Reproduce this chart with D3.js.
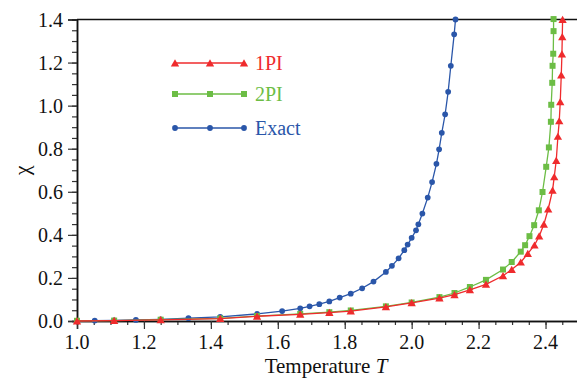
<!DOCTYPE html>
<html>
<head>
<meta charset="utf-8">
<script src="https://cdn.jsdelivr.net/npm/d3@7"></script>
<style>
  body { margin: 0; background: #fff; }
  svg { display: block; font-family: "Liberation Serif", "Times New Roman", serif; }
  svg text { font-family: "Liberation Serif", "Times New Roman", serif; }
</style>
</head>
<body>
<div id="chart"></div>
<script>
// temperatures and susceptibility
const exact_T = [1.0, 1.053, 1.111, 1.176, 1.25, 1.333, 1.428, 1.538, 1.613, 1.667, 1.695, 1.724, 1.754, 1.785, 1.818, 1.852, 1.886, 1.923, 1.941, 1.961, 1.978, 1.988, 2.0, 2.013, 2.02, 2.032, 2.048, 2.061, 2.074, 2.082, 2.09, 2.1, 2.109, 2.117, 2.127, 2.131];
const exact_chi = [0.001, 0.002, 0.003, 0.005, 0.008, 0.013, 0.019, 0.033, 0.046, 0.059, 0.068, 0.078, 0.091, 0.109, 0.127, 0.152, 0.183, 0.228, 0.256, 0.291, 0.329, 0.355, 0.386, 0.421, 0.449, 0.499, 0.573, 0.645, 0.73, 0.797, 0.874, 0.96, 1.064, 1.185, 1.331, 1.4];

const pi1_T = [1.0, 1.111, 1.25, 1.428, 1.538, 1.667, 1.754, 1.818, 1.923, 2.0, 2.083, 2.128, 2.174, 2.222, 2.273, 2.299, 2.326, 2.347, 2.367, 2.381, 2.395, 2.408, 2.421, 2.426, 2.432, 2.437, 2.441, 2.444, 2.447, 2.449, 2.45, 2.451];
const pi1_chi = [0.0, 0.002, 0.005, 0.011, 0.022, 0.031, 0.039, 0.046, 0.066, 0.084, 0.106, 0.122, 0.145, 0.17, 0.21, 0.239, 0.273, 0.313, 0.352, 0.394, 0.449, 0.52, 0.607, 0.669, 0.745, 0.857, 0.929, 1.018, 1.142, 1.239, 1.32, 1.4];

const pi2_T = [1.0, 1.111, 1.25, 1.428, 1.538, 1.667, 1.754, 1.818, 1.923, 2.0, 2.083, 2.128, 2.174, 2.222, 2.273, 2.299, 2.326, 2.339, 2.352, 2.366, 2.38, 2.391, 2.402, 2.41, 2.416, 2.417, 2.42, 2.421, 2.423, 2.424, 2.424];
const pi2_chi = [0.001, 0.002, 0.006, 0.012, 0.023, 0.033, 0.041, 0.049, 0.068, 0.086, 0.111, 0.13, 0.158, 0.191, 0.239, 0.274, 0.322, 0.352, 0.394, 0.445, 0.514, 0.599, 0.716, 0.806, 0.925, 1.004, 1.106, 1.185, 1.241, 1.346, 1.402];

const x_ticks = [1.0, 1.2, 1.4, 1.6, 1.8, 2.0, 2.2, 2.4];
const y_ticks = [0.0, 0.2, 0.4, 0.6, 0.8, 1.0, 1.2, 1.4];
const legend_names = ["1PI", "2PI", "Exact"];

const width = 577, height = 378;
const margin = { left: 77, right: -2, top: 19.5, bottom: 57 };
const serif = "Liberation Serif";

const svg = d3.select("#chart").append("svg")
  .attr("width", width)
  .attr("height", height);

const xScale = d3.scaleLinear().domain([1.0, 2.5]).range([margin.left, width - margin.right]);
const yScale = d3.scaleLinear().domain([0, 1.4]).range([height - margin.bottom, margin.top]);

const series = [
  { name: "Exact", T: exact_T, chi: exact_chi, color: "#2a56a9", shape: "circle" },
  { name: "2PI", T: pi2_T, chi: pi2_chi, color: "#6cbd45", shape: "square" },
  { name: "1PI", T: pi1_T, chi: pi1_chi, color: "#ef2b2d", shape: "triangle" },
];

const symbolFor = (shape) => {
  if (shape == "triangle") return d3.symbol().type(d3.symbolTriangle).size(30)();
  if (shape == "square") return d3.symbol().type(d3.symbolSquare).size(36)();
  return d3.symbol().type(d3.symbolCircle).size(26)();
};

// axes (ticks from d3, labels drawn as plain text below)
const minorX = d3.range(1.0, 2.5001, 0.05);
const minorY = d3.range(0, 1.4001, 0.05);

svg.append("g")
  .attr("class", "x-axis")
  .attr("transform", `translate(0,${yScale(0)})`)
  .call(d3.axisBottom(xScale).tickValues(minorX).tickSize(4).tickFormat(""));
svg.append("g")
  .attr("class", "x-axis")
  .attr("transform", `translate(0,${yScale(0)})`)
  .call(d3.axisBottom(xScale).tickValues(x_ticks).tickSize(8).tickFormat(""));

svg.append("g")
  .attr("class", "y-axis")
  .attr("transform", `translate(${xScale(1.0)},0)`)
  .call(d3.axisLeft(yScale).tickValues(minorY).tickSize(5).tickFormat(""));
svg.append("g")
  .attr("class", "y-axis")
  .attr("transform", `translate(${xScale(1.0)},0)`)
  .call(d3.axisLeft(yScale).tickValues(y_ticks).tickSize(9).tickFormat(""));

svg.selectAll(".domain").attr("stroke", "#111").attr("stroke-width", 1.5);
svg.selectAll(".tick line").attr("stroke", "#333").attr("stroke-width", 1.2);

svg.append("g").selectAll("text")
  .data(x_ticks)
  .enter()
  .append("text")
  .attr("x", (d) => xScale(d))
  .attr("y", yScale(0) + 28)
  .attr("text-anchor", "middle")
  .attr("font-family", serif)
  .attr("font-size", 20)
  .attr("fill", "#111")
  .text((d) => d3.format(".1f")(d));

svg.append("g").selectAll("text")
  .data(y_ticks)
  .enter()
  .append("text")
  .attr("x", xScale(1.0) - 14)
  .attr("y", (d) => yScale(d) + 7)
  .attr("text-anchor", "end")
  .attr("font-family", serif)
  .attr("font-size", 20)
  .attr("fill", "#111")
  .text((d) => d3.format(".1f")(d));

// top frame line
svg.append("line")
  .attr("x1", xScale(1.0)).attr("x2", width)
  .attr("y1", yScale(1.4)).attr("y2", yScale(1.4))
  .attr("stroke", "#111").attr("stroke-width", 1.6);

// axis titles
const xt = svg.append("text")
  .attr("x", 326)
  .attr("y", 373)
  .attr("text-anchor", "middle")
  .attr("font-family", serif)
  .attr("font-size", 21)
  .attr("fill", "#111");
xt.append("tspan").text("Temperature ");
xt.append("tspan").style("font-style", "italic").text("T");

svg.append("text")
  .attr("transform", `translate(29,${(yScale(0) + yScale(1.4)) / 2}) rotate(-90)`)
  .attr("text-anchor", "middle")
  .attr("font-family", serif)
  .attr("font-size", 22)
  .attr("fill", "#111")
  .text("χ");

// series
const line = d3.line().x((d) => xScale(d[0])).y((d) => yScale(d[1]));

series.forEach((s) => {
  const pts = s.T.map((t, i) => [t, s.chi[i]]);
  svg.append("path")
    .datum(pts)
    .attr("d", line)
    .attr("fill", "none")
    .attr("stroke", s.color)
    .attr("stroke-width", 1.3);
  svg.append("g").selectAll("path")
    .data(pts)
    .enter()
    .append("path")
    .attr("d", symbolFor(s.shape))
    .attr("transform", (d) => `translate(${xScale(d[0])},${yScale(d[1]) + (s.shape == "triangle" ? 1 : 0)})`)
    .attr("fill", s.color);
});

// legend
const legendY = [63, 94, 128];
const legendX = [175, 210, 244];
legend_names.forEach((name, i) => {
  const s = series.find((d) => d.name == name);
  const g = svg.append("g").attr("class", "legend");
  g.append("line")
    .attr("x1", legendX[0]).attr("x2", legendX[2])
    .attr("y1", legendY[i]).attr("y2", legendY[i])
    .attr("stroke", s.color).attr("stroke-width", 1.3);
  legendX.forEach((lx) => {
    g.append("path")
      .attr("d", symbolFor(s.shape))
      .attr("transform", `translate(${lx},${legendY[i] + (s.shape == "triangle" ? 1 : 0)})`)
      .attr("fill", s.color);
  });
  g.append("text")
    .attr("x", 255)
    .attr("y", legendY[i] + 7)
    .attr("font-family", serif)
    .attr("font-size", 20)
    .attr("fill", s.color)
    .text(name);
});
</script>
</body>
</html>
